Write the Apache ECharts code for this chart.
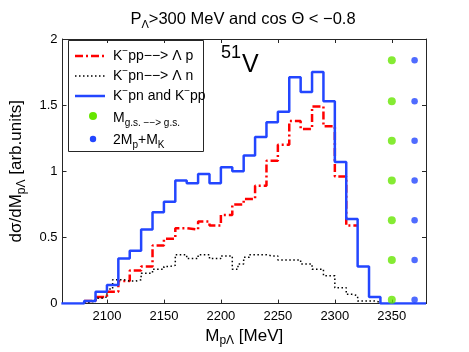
<!DOCTYPE html>
<html>
<head>
<meta charset="utf-8">
<script src="https://cdn.jsdelivr.net/npm/echarts@6/dist/echarts.min.js"></script>
<style>
  html, body { margin: 0; padding: 0; background: #fff; }
  #chart { width: 469px; height: 352px; }
</style>
</head>
<body>
<div id="chart"></div>
<script>
// bin starts (MeV) and heights
const bins10 = [2060, 2070, 2080, 2090, 2100, 2110, 2120, 2130, 2140, 2150, 2160, 2170, 2180, 2190, 2200, 2210,
  2220, 2230, 2240, 2250, 2260, 2270, 2280, 2290, 2300, 2310, 2320, 2330, 2340, 2350, 2360, 2370, 2380];
// K-pn and K-pp (blue, solid)
const sumVals = [0, 0, 0.02, 0.09, 0.14, 0.34, 0.40, 0.56, 0.69, 0.77, 0.93, 0.91, 0.98, 0.91, 1.03, 1.00,
  1.12, 1.26, 1.37, 1.45, 1.71, 1.60, 1.75, 1.53, 1.07, 0.64, 0.28, 0.05, 0, 0, 0, 0, 0];
// K-pp --> Lambda p (red, dash-dot), starts at 2080
const ppBins = [2080, 2090, 2100, 2110, 2120, 2130, 2140, 2150, 2160, 2170, 2180, 2190, 2200, 2210, 2220,
  2230, 2240, 2250, 2260, 2270, 2280, 2290, 2300, 2310, 2320];
const ppVals = [0.02, 0.05, 0.09, 0.17, 0.25, 0.28, 0.44, 0.49, 0.57, 0.56, 0.62, 0.59, 0.67, 0.75, 0.79,
  0.89, 1.08, 1.20, 1.38, 1.32, 1.49, 1.34, 0.96, 0.59, 0.59];
// K-pn --> Lambda n (black, dotted), 5 MeV bins
const pnBins = [2080, 2085, 2090, 2095, 2100, 2105, 2110, 2115, 2120, 2125, 2130, 2135, 2140, 2145, 2150, 2155,
  2160, 2165, 2170, 2175, 2180, 2185, 2190, 2195, 2200, 2205, 2210, 2215, 2220, 2225, 2230, 2235, 2240, 2245,
  2250, 2255, 2260, 2265, 2270, 2275, 2280, 2285, 2290, 2295, 2300, 2305, 2310, 2315, 2320, 2325, 2330, 2335, 2340];
const pnVals = [0.01, 0.02, 0.04, 0.05, 0.11, 0.18, 0.18, 0.17, 0.17, 0.18, 0.23, 0.23, 0.26, 0.26, 0.28, 0.29,
  0.37, 0.37, 0.34, 0.34, 0.37, 0.37, 0.34, 0.34, 0.36, 0.36, 0.26, 0.30, 0.35, 0.37, 0.37, 0.37, 0.36, 0.36,
  0.33, 0.33, 0.33, 0.33, 0.30, 0.30, 0.26, 0.26, 0.21, 0.21, 0.12, 0.12, 0.07, 0.06, 0.02, 0.02, 0.02, 0.01, 0.01];
// threshold markers
const gsMass = 2350;
const thrMass = 2370;
const markerY = [0.03, 0.33, 0.63, 0.93, 1.23, 1.53, 1.84];
const xTicks = [2100, 2150, 2200, 2250, 2300, 2350];

const FONT = 'Liberation Sans';
const BLUE = '#2346ff';
const GREEN = '#66e600';
const AXC = '#262626';

function pairs(xs, ys) {
  let out = [];
  for (let i = 0; i < xs.length; i++) out.push([xs[i], ys[i]]);
  return out;
}

let myChart = echarts.init(document.getElementById('chart'));
let option = {
  animation: false,
  grid: { left: 61, top: 39, width: 365, height: 265 },
  xAxis: [
    {
      type: 'value', min: 2061, max: 2380,
      axisLine: { onZero: false, lineStyle: { color: AXC } },
      axisTick: { inside: true, length: 4, customValues: xTicks, lineStyle: { color: AXC } },
      axisLabel: { customValues: xTicks, margin: 6, color: '#000', fontFamily: FONT, fontSize: 13,
        formatter: v => String(v) },
      splitLine: { show: false },
      name: 'M{s|pΛ} [MeV]', nameLocation: 'middle', nameGap: 18,
      nameTextStyle: { fontFamily: FONT, fontSize: 17, color: '#000',
        rich: { s: { fontFamily: FONT, fontSize: 12, padding: [10, 0, 0, 0] } } }
    },
    {
      type: 'value', min: 2061, max: 2380, position: 'top',
      axisLine: { onZero: false, lineStyle: { color: AXC } },
      axisTick: { inside: true, length: 4, customValues: xTicks, lineStyle: { color: AXC } },
      axisLabel: { show: false }, splitLine: { show: false }
    }
  ],
  yAxis: [
    {
      type: 'value', min: 0, max: 2, interval: 0.5,
      axisLine: { show: true, lineStyle: { color: AXC } },
      axisTick: { show: true, inside: true, length: 4, lineStyle: { color: AXC } },
      axisLabel: { margin: 5, color: '#000', fontFamily: FONT, fontSize: 13 },
      splitLine: { show: false },
      name: 'dσ/dM{s|pΛ} [arb.units]', nameLocation: 'middle', nameGap: 35, nameRotate: 90,
      nameTextStyle: { fontFamily: FONT, fontSize: 17, color: '#000',
        rich: { s: { fontFamily: FONT, fontSize: 12, padding: [10, 0, 0, 0] } } }
    },
    {
      type: 'value', min: 0, max: 2, interval: 0.5, position: 'right',
      axisLine: { show: true, lineStyle: { color: AXC } },
      axisTick: { show: true, inside: true, length: 4, lineStyle: { color: AXC } },
      axisLabel: { show: false }, splitLine: { show: false }
    }
  ],
  series: [
    {
      name: 'pp', type: 'line', step: 'end', symbol: 'none',
      lineStyle: { color: '#ff0000', width: 2.5, type: [8, 3, 2, 3] },
      data: pairs(ppBins, ppVals), z: 3
    },
    {
      name: 'pn', type: 'line', step: 'end', symbol: 'none',
      lineStyle: { color: '#000', width: 1.5, type: [1.5, 2.5] },
      data: pairs(pnBins, pnVals), z: 3
    },
    {
      name: 'sum', type: 'line', step: 'end', symbol: 'none',
      lineStyle: { color: BLUE, width: 2.5 },
      data: pairs(bins10, sumVals), z: 4
    },
    {
      name: 'gs', type: 'scatter', symbol: 'circle', symbolSize: 8,
      itemStyle: { color: GREEN }, data: markerY.map(y => [gsMass, y]), z: 5
    },
    {
      name: 'thr', type: 'scatter', symbol: 'circle', symbolSize: 6.5,
      itemStyle: { color: BLUE }, data: markerY.map(y => [thrMass, y]), z: 5
    }
  ],
  graphic: [
    // title
    {
      type: 'text', x: 243, y: 19,
      style: {
        text: 'P{s|Λ}>300 MeV and cos Θ < −0.8', fontFamily: FONT, fontSize: 16.5, fill: '#000',
        align: 'center', verticalAlign: 'middle',
        rich: { s: { fontFamily: FONT, fontSize: 11, padding: [11, 0, 0, 0] } }
      }
    },
    // nucleus label
    {
      type: 'text', x: 221, y: 60,
      style: {
        text: '{a|51}{b|V}', fill: '#000', verticalAlign: 'middle',
        rich: {
          a: { fontFamily: FONT, fontSize: 18, padding: [0, 1, 14, 0] },
          b: { fontFamily: FONT, fontSize: 25, padding: [10, 0, 0, 0] }
        }
      }
    },
    // legend
    {
      type: 'group', z: 20,
      children: [
        { type: 'rect', shape: { x: 68.5, y: 40.5, width: 135, height: 111 },
          style: { fill: '#fff', stroke: AXC, lineWidth: 1 } },
        { type: 'line', shape: { x1: 75, y1: 56, x2: 105, y2: 56 },
          style: { stroke: '#ff0000', lineWidth: 2.5, lineDash: [8, 3, 2, 3] } },
        { type: 'line', shape: { x1: 75, y1: 76, x2: 105, y2: 76 },
          style: { stroke: '#000', lineWidth: 1.5, lineDash: [1.5, 2.5] } },
        { type: 'line', shape: { x1: 75, y1: 96, x2: 105, y2: 96 },
          style: { stroke: BLUE, lineWidth: 2.5 } },
        { type: 'circle', shape: { cx: 93, cy: 116, r: 4 }, style: { fill: GREEN } },
        { type: 'circle', shape: { cx: 93, cy: 139, r: 3.2 }, style: { fill: BLUE } },
        { type: 'text', x: 113, y: 56, style: { text: 'K{p|−}pp−−> Λ p', fontFamily: FONT, fontSize: 14,
          fill: '#000', verticalAlign: 'middle', rich: { p: { fontFamily: FONT, fontSize: 10, padding: [0, 0, 9, 0] } } } },
        { type: 'text', x: 113, y: 76, style: { text: 'K{p|−}pn−−> Λ n', fontFamily: FONT, fontSize: 14,
          fill: '#000', verticalAlign: 'middle', rich: { p: { fontFamily: FONT, fontSize: 10, padding: [0, 0, 9, 0] } } } },
        { type: 'text', x: 113, y: 96, style: { text: 'K{p|−}pn and K{p|−}pp', fontFamily: FONT, fontSize: 14,
          fill: '#000', verticalAlign: 'middle', rich: { p: { fontFamily: FONT, fontSize: 10, padding: [0, 0, 9, 0] } } } },
        { type: 'text', x: 113, y: 118, style: { text: 'M{s|g.s. −−> g.s.}', fontFamily: FONT, fontSize: 14,
          fill: '#000', verticalAlign: 'middle', rich: { s: { fontFamily: FONT, fontSize: 10, padding: [10, 0, 0, 0] } } } },
        { type: 'text', x: 113, y: 140, style: { text: '2M{s|p}+M{s|K}', fontFamily: FONT, fontSize: 14,
          fill: '#000', verticalAlign: 'middle', rich: { s: { fontFamily: FONT, fontSize: 10, padding: [10, 0, 0, 0] } } } }
      ]
    }
  ]
};
myChart.setOption(option);
</script>
</body>
</html>
